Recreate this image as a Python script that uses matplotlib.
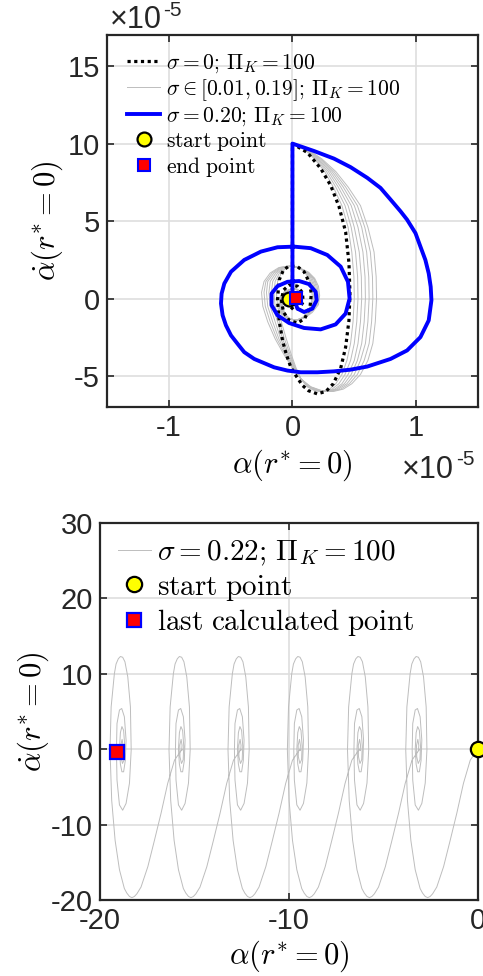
import numpy as np
import matplotlib
matplotlib.use('Agg')
import matplotlib.pyplot as plt

plt.rcParams['font.family'] = ['Liberation Sans', 'DejaVu Sans']
plt.rcParams['mathtext.fontset'] = 'cm'
plt.rcParams['axes.unicode_minus'] = False

# ---- top panel data (units of 1e-5) ----
blue_x = [0, 0, 0.175, 0.336, 0.470, 0.605, 0.712, 0.793, 0.874, 0.927, 0.995, 1.035, 1.075,
          1.102, 1.118, 1.124, 1.102, 1.035, 0.927, 0.793, 0.605, 0.470, 0.336, 0.202, 0.067,
          -0.040, -0.148, -0.309, -0.390, -0.444, -0.497, -0.538, -0.565, -0.578, -0.573,
          -0.551, -0.497, -0.390, -0.255, -0.121, 0.013, 0.148, 0.282, 0.390, 0.449, 0.462,
          0.430, 0.349, 0.228, 0.094, -0.027, -0.121, -0.169, -0.169, -0.121, -0.040, 0.054,
          0.134, 0.188, 0.196, 0.161, 0.094, 0.040, 0.022]
blue_y = [0, 10.0, 9.52, 9.03, 8.48, 7.79, 7.14, 6.39, 5.63, 5.09, 4.22, 3.35, 2.49, 1.62,
          0.76, -0.11, -1.41, -2.49, -3.35, -3.90, -4.39, -4.59, -4.70, -4.76, -4.76, -4.65,
          -4.44, -3.90, -3.46, -2.92, -2.38, -1.73, -1.08, -0.32, 0.32, 0.97, 1.73, 2.49, 3.03,
          3.31, 3.35, 3.25, 2.81, 2.06, 1.08, 0.0, -0.97, -1.67, -1.99, -1.90, -1.58, -1.08,
          -0.43, 0.32, 0.80, 1.08, 1.13, 0.93, 0.43, -0.11, -0.65, -0.87, -0.65, -0.22]

black_x = [0, 0, 0.054, 0.121, 0.228, 0.309, 0.376, 0.43, 0.457, 0.465, 0.457, 0.43, 0.39,
           0.33, 0.27, 0.2, 0.13, 0.08, 0.03, -0.013, -0.05, -0.08, -0.108, -0.121, -0.108,
           -0.073, -0.027, 0.04, 0.094, 0.134, 0.153, 0.142, 0.099, 0.04, -0.027, -0.073,
           -0.089, -0.073, -0.027, 0.04, 0.081, 0.086, 0.054, 0.008, -0.027, -0.027, 0.0, 0.035]
black_y = [0, 10, 9.74, 9.42, 8.4, 7.3, 5.95, 4.3, 2.3, 0.3, -1.41, -3.14, -4.5, -5.5, -6.0,
           -6.15, -5.95, -5.6, -5.0, -4.44, -3.6, -2.71, -1.41, -0.11, 1.19, 1.84, 2.1, 2.06,
           1.73, 1.08, 0.32, -0.54, -1.3, -1.58, -1.41, -0.87, -0.11, 0.54, 0.87, 0.8, 0.37,
           -0.22, -0.65, -0.71, -0.43, 0, 0.22, 0.04]

# sigma in [0.01, 0.19]: a handful of the traces, sharing the same y samples
grey_y = [0, 10, 9.6, 9.0, 8.2, 7.2, 6.0, 4.6, 3.0, 1.4, 0.0, -1.5, -2.9, -4.0, -4.9, -5.5,
          -5.85, -6.0, -5.95, -5.7, -5.2, -4.5, -3.6, -2.6, -1.5, -0.5, 0.4, 1.1, 1.65, 2.0,
          2.1, 2.0, 1.7, 1.3, 0.8, 0.2, -0.4, -0.9, -1.25, -1.4, -1.3, -1.0, -0.5, 0.05, 0.45,
          0.62, 0.6, 0.4, 0.1, -0.2, -0.38, -0.35]
grey_x = [
    [0, 0, 0.10, 0.18, 0.26, 0.33, 0.40, 0.45, 0.48, 0.497, 0.50, 0.49, 0.47, 0.44, 0.40, 0.35,
     0.30, 0.24, 0.18, 0.12, 0.07, 0.03, -0.01, -0.05, -0.09, -0.12, -0.13, -0.12, -0.09, -0.05,
     0.0, 0.05, 0.10, 0.13, 0.15, 0.16, 0.15, 0.12, 0.08, 0.03, -0.02, -0.06, -0.08, -0.075,
     -0.05, -0.01, 0.03, 0.06, 0.07, 0.06, 0.03, 0.01],
    [0, 0, 0.105, 0.19, 0.275, 0.35, 0.425, 0.475, 0.51, 0.527, 0.53, 0.52, 0.50, 0.47, 0.425,
     0.375, 0.32, 0.255, 0.19, 0.125, 0.07, 0.025, -0.02, -0.065, -0.105, -0.14, -0.15, -0.14,
     -0.105, -0.06, -0.005, 0.05, 0.105, 0.14, 0.16, 0.17, 0.16, 0.125, 0.08, 0.03, -0.025,
     -0.065, -0.085, -0.08, -0.05, -0.01, 0.03, 0.062, 0.072, 0.062, 0.03, 0.01],
    [0, 0, 0.11, 0.20, 0.29, 0.37, 0.45, 0.50, 0.54, 0.557, 0.56, 0.55, 0.53, 0.50, 0.45, 0.40,
     0.34, 0.27, 0.20, 0.13, 0.07, 0.02, -0.03, -0.08, -0.12, -0.16, -0.17, -0.16, -0.12, -0.07,
     -0.01, 0.05, 0.11, 0.15, 0.17, 0.18, 0.17, 0.13, 0.08, 0.03, -0.03, -0.07, -0.09, -0.085,
     -0.055, -0.01, 0.03, 0.065, 0.075, 0.065, 0.03, 0.01],
    [0, 0, 0.115, 0.21, 0.305, 0.39, 0.475, 0.53, 0.57, 0.587, 0.59, 0.58, 0.56, 0.525, 0.475,
     0.42, 0.355, 0.285, 0.21, 0.135, 0.07, 0.015, -0.04, -0.095, -0.14, -0.18, -0.19, -0.18,
     -0.135, -0.08, -0.015, 0.05, 0.115, 0.16, 0.18, 0.19, 0.18, 0.135, 0.085, 0.03, -0.03,
     -0.075, -0.095, -0.09, -0.057, -0.01, 0.032, 0.068, 0.078, 0.068, 0.032, 0.01],
    [0, 0, 0.12, 0.22, 0.32, 0.41, 0.50, 0.56, 0.60, 0.617, 0.62, 0.61, 0.59, 0.55, 0.50, 0.44,
     0.37, 0.30, 0.22, 0.14, 0.07, 0.01, -0.05, -0.11, -0.16, -0.20, -0.21, -0.20, -0.15, -0.09,
     -0.02, 0.05, 0.12, 0.17, 0.19, 0.20, 0.19, 0.14, 0.09, 0.03, -0.03, -0.08, -0.10, -0.095,
     -0.06, -0.01, 0.035, 0.07, 0.08, 0.07, 0.035, 0.01],
    [0, 0, 0.125, 0.23, 0.335, 0.43, 0.525, 0.585, 0.63, 0.647, 0.65, 0.64, 0.62, 0.58, 0.525,
     0.46, 0.39, 0.315, 0.23, 0.145, 0.07, 0.005, -0.06, -0.125, -0.18, -0.22, -0.23, -0.215,
     -0.165, -0.10, -0.025, 0.05, 0.125, 0.175, 0.20, 0.21, 0.20, 0.15, 0.095, 0.03, -0.035,
     -0.085, -0.105, -0.10, -0.062, -0.01, 0.038, 0.072, 0.082, 0.072, 0.038, 0.01],
    [0, 0, 0.13, 0.24, 0.35, 0.45, 0.55, 0.61, 0.66, 0.677, 0.68, 0.67, 0.65, 0.61, 0.55, 0.48,
     0.41, 0.33, 0.24, 0.15, 0.07, 0.0, -0.07, -0.14, -0.20, -0.24, -0.25, -0.23, -0.18, -0.11,
     -0.03, 0.05, 0.13, 0.18, 0.21, 0.22, 0.21, 0.16, 0.10, 0.03, -0.04, -0.09, -0.11, -0.105,
     -0.065, -0.01, 0.04, 0.075, 0.085, 0.075, 0.04, 0.01],
]

top_start = (-0.03, 0.0)
top_end = (0.032, 0.02)

# ---- bottom panel data ----
# one spiral, relative to its own centre
spiral_dx = [3.14, 2.74, 2.38, 2.03, 1.68, 1.33, 0.97, 0.75, 0.62, 0.49, 0.36, 0.22, 0.09, -0.17,
             -0.40, -0.58, -0.67, -0.61, -0.44, -0.35, -0.23, -0.12, 0.0, 0.12, 0.27, 0.41, 0.45,
             0.36, 0.18, 0.0, -0.17, -0.30, -0.33, -0.30, -0.17, -0.05, 0.09, 0.18, 0.14, 0.05,
             -0.04, -0.12, -0.17, -0.12, -0.04, 0.05, 0.11, 0.08, -0.01, -0.09, -0.10, -0.03,
             0.02, 0.0]
spiral_y = [0.0, -1.46, -4.55, -8.5, -12.1, -15.6, -18.3, -19.2, -19.55, -19.7, -19.55, -19.1,
            -18.5, -16.0, -12.1, -6.8, -0.1, 5.6, 10.0, 11.3, 12.0, 12.3, 12.2, 11.6, 9.6, 5.6,
            -0.1, -4.5, -7.2, -8.1, -7.4, -4.1, -0.1, 3.4, 5.2, 5.4, 4.3, 1.2, -1.5, -3.0, -3.0,
            -2.0, 0.0, 2.2, 3.0, 2.5, 0.4, -1.4, -1.9, -1.0, 0.5, 1.3, 0.5, -0.2]
spiral_centres = [-3.16, -6.24, -9.42, -12.56, -15.68, -18.8]

bot_start = (0.0, 0.0)
bot_last = (-19.1, -0.4)

tick_col = '#262626'
grid_col = '#dedede'
grey = '#bdbdbd'

fig = plt.figure(figsize=(4.83, 9.76), dpi=100)

def style(ax):
    for s in ax.spines.values():
        s.set_color(tick_col)
        s.set_linewidth(1.6)
    ax.tick_params(direction='in', length=5, width=1.2, colors=tick_col,
                   labelsize=21, top=True, right=True, pad=5)
    ax.grid(True, color=grid_col, linewidth=1.2)
    ax.set_axisbelow(True)

# ---------------- top ----------------
ax1 = fig.add_axes([0.2215, 0.583, 0.768, 0.381])
style(ax1)
for i, gx in enumerate(grey_x):
    ax1.plot(gx, grey_y, color=grey, lw=0.7,
             label=r'$\sigma\in[0.01,0.19];\, \Pi_K=100$' if i == 0 else None, zorder=2)
ax1.plot(black_x, black_y, color='k', lw=2.3, ls=(0, (1, 1.1)),
         label=r'$\sigma=0;\, \Pi_K=100$', zorder=3)
ax1.plot(blue_x, blue_y, color='#0000ff', lw=2.8, label=r'$\sigma=0.20;\, \Pi_K=100$', zorder=4)
ax1.plot(*top_start, 'o', ms=10, mfc='#ffff00', mec='k', mew=1.6, ls='none',
         label=r'$\mathrm{start\ point}$', zorder=5)
ax1.plot(*top_end, 's', ms=9, mfc='#ff0000', mec='#0000ff', mew=1.5, ls='none',
         label=r'$\mathrm{end\ point}$', zorder=6)
ax1.set_xlim(-1.5, 1.5)
ax1.set_ylim(-7, 17)
ax1.set_xticks([-1, 0, 1])
ax1.set_yticks([-5, 0, 5, 10, 15])
ax1.set_xlabel(r'$\alpha(r^{*}=0)$', fontsize=22, labelpad=4)
ax1.set_ylabel(r'$\dot{\alpha}(r^{*}=0)$', fontsize=22, labelpad=2)
h, l = ax1.get_legend_handles_labels()
order = [1, 0, 2, 3, 4]
ax1.legend([h[k] for k in order], [l[k] for k in order], loc='upper left', frameon=False,
           fontsize=15.5, handlelength=1.55, handletextpad=0.25, labelspacing=0.1,
           borderaxespad=0.0, bbox_to_anchor=(0.031, 0.977))
fig.text(0.228, 0.9713, '×10', fontsize=22, color=tick_col, va='baseline')
fig.text(0.3375, 0.9836, '-5', fontsize=15, color=tick_col, va='baseline')
fig.text(0.832, 0.5102, '×10', fontsize=22, color=tick_col, va='baseline')
fig.text(0.944, 0.5236, '-5', fontsize=15, color=tick_col, va='baseline')

# ---------------- bottom ----------------
ax2 = fig.add_axes([0.207, 0.078, 0.783, 0.386])
style(ax2)
dx = np.array(spiral_dx)
sy = np.array(spiral_y)
xs, ys = [], []
for cx in spiral_centres:
    xs.append(dx + cx)
    ys.append(sy)
ax2.plot(np.concatenate(xs), np.concatenate(ys), color=grey, lw=0.7,
         label=r'$\sigma=0.22;\, \Pi_K=100$', zorder=2)
ax2.plot(*bot_start, 'o', ms=11, mfc='#ffff00', mec='k', mew=1.6, ls='none',
         label=r'$\mathrm{start\ point}$', zorder=5, clip_on=False)
ax2.plot(*bot_last, 's', ms=10, mfc='#ff0000', mec='#0000ff', mew=1.6, ls='none',
         label=r'$\mathrm{last\ calculated\ point}$', zorder=6, clip_on=False)
ax2.set_xlim(-20, 0)
ax2.set_ylim(-20, 30)
ax2.set_xticks([-20, -10, 0])
ax2.set_yticks([-20, -10, 0, 10, 20, 30])
ax2.set_xlabel(r'$\alpha(r^{*}=0)$', fontsize=22, labelpad=3)
ax2.set_ylabel(r'$\dot{\alpha}(r^{*}=0)$', fontsize=22, labelpad=0)
ax2.legend(loc='upper left', frameon=False, fontsize=21, handlelength=1.15,
           handletextpad=0.2, labelspacing=0.15, borderaxespad=0.0,
           bbox_to_anchor=(0.016, 0.99))

fig.savefig('out.png', dpi=100)
